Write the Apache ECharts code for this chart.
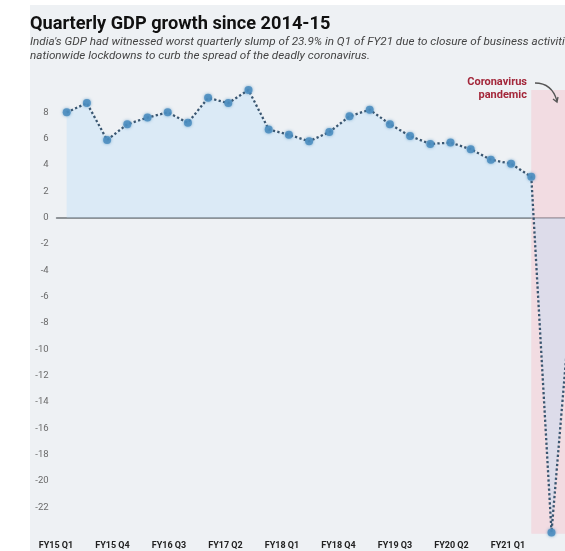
<!DOCTYPE html>
<html>
<head>
<meta charset="utf-8">
<script src="https://cdn.jsdelivr.net/npm/echarts@6/dist/echarts.min.js"></script>
<style>
  html, body { margin: 0; padding: 0; background: #ffffff; }
  #chart { width: 565px; height: 551px; }
</style>
</head>
<body>
<div id="chart"></div>
<script>
// ---- data ----
const quarters = [
  'FY15 Q1','FY15 Q2','FY15 Q3','FY15 Q4',
  'FY16 Q1','FY16 Q2','FY16 Q3','FY16 Q4',
  'FY17 Q1','FY17 Q2','FY17 Q3','FY17 Q4',
  'FY18 Q1','FY18 Q2','FY18 Q3','FY18 Q4',
  'FY19 Q1','FY19 Q2','FY19 Q3','FY19 Q4',
  'FY20 Q1','FY20 Q2','FY20 Q3','FY20 Q4',
  'FY21 Q1','FY21 Q2'
];
const gdpGrowth = [
  8.0, 8.7, 5.9, 7.1,
  7.6, 8.0, 7.2, 9.1,
  8.7, 9.7, 6.7, 6.3,
  5.8, 6.5, 7.7, 8.2,
  7.1, 6.2, 5.6, 5.7,
  5.2, 4.4, 4.1, 3.1,
  -23.9, -5.6
];
const tickLabels = ['FY15 Q1','FY15 Q4','FY16 Q3','FY17 Q2','FY18 Q1','FY18 Q4','FY19 Q3','FY20 Q2','FY21 Q1'];
const pandemicStart = 'FY20 Q4';
const pandemicTop = 9.7;

const titleText = 'Quarterly GDP growth since 2014-15';
const subtitleText = "India's GDP had witnessed worst quarterly slump of 23.9% in Q1 of FY21 due to closure of business activities and\nnationwide lockdowns to curb the spread of the deadly coronavirus.";
const annotationText = 'Coronavirus\npandemic';

const chart = echarts.init(document.getElementById('chart'), null, { renderer: 'canvas' });

const option = {
  backgroundColor: '#ffffff',
  animation: false,
  title: {
    text: titleText,
    subtext: subtitleText,
    left: 30,
    top: 15,
    padding: 0,
    itemGap: 2,
    textStyle: { fontFamily: 'Roboto', fontWeight: 'bold', fontSize: 18.2, color: '#111111' },
    subtextStyle: { fontFamily: 'Roboto', fontStyle: 'italic', fontSize: 11.7, color: '#444444', lineHeight: 14 }
  },
  graphic: [
    { type: 'rect', z: -100, silent: true, shape: { x: 30, y: 5, width: 600, height: 600 }, style: { fill: '#eef1f4' } },
    { type: 'text', z: 100, style: {
        x: 527, y: 75, text: annotationText, align: 'right', verticalAlign: 'top',
        font: 'bold 11px Roboto', fill: '#a3273a', lineHeight: 13.5
      } },
    { type: 'bezierCurve', z: 100, shape: { x1: 535, y1: 83, x2: 557, y2: 101, cpx1: 552, cpy1: 83 },
      style: { stroke: '#555555', lineWidth: 1.3, fill: null } },
    { type: 'polyline', z: 100, shape: { points: [[553, 99], [557, 102], [558, 97]] },
      style: { stroke: '#555555', lineWidth: 1.3, fill: null } }
  ],
  grid: [
    { left: 56.6, width: 525.2, top: 86.0, bottom: 17.3, outerBoundsMode: 'none', containLabel: false },
    { left: 56, right: 57, top: 530, bottom: 15, outerBoundsMode: 'none', containLabel: false }
  ],
  xAxis: [
    {
      type: 'category', gridIndex: 0, data: quarters, boundaryGap: true,
      axisLine: { show: true, onZero: true, lineStyle: { color: '#6f7478', width: 1.6 } },
      axisTick: { show: false }, axisLabel: { show: false }, splitLine: { show: false }
    },
    {
      type: 'category', gridIndex: 1, data: tickLabels, boundaryGap: false,
      axisLine: { show: false }, axisTick: { show: false },
      axisLabel: { show: true, interval: 0, margin: 5, fontFamily: 'Roboto', fontWeight: 'bold', fontSize: 9, color: '#222222' }
    }
  ],
  yAxis: [
    {
      type: 'value', gridIndex: 0, min: -24, max: 10, interval: 2,
      axisLine: { show: false }, axisTick: { show: false }, splitLine: { show: false },
      axisLabel: {
        margin: 8, fontFamily: 'Roboto', fontSize: 9.5, color: '#6a6a6a',
        formatter: function (v) { return (v === 10 || v === -24) ? '' : String(v); }
      }
    },
    { type: 'value', gridIndex: 1, show: false }
  ],
  series: [
    {
      type: 'line', xAxisIndex: 0, yAxisIndex: 0, data: gdpGrowth,
      symbol: 'circle', symbolSize: 8, showSymbol: true,
      lineStyle: { type: 'dotted', width: 2.3, color: '#3a5670' },
      itemStyle: { color: 'rgba(74,140,190,0.85)', borderWidth: 0, shadowBlur: 3, shadowColor: 'rgba(74,140,190,0.8)' },
      areaStyle: { color: 'rgba(185,222,250,0.5)' },
      z: 3,
      markArea: {
        silent: true,
        itemStyle: { color: 'rgba(250,180,190,0.34)' },
        data: [[ { xAxis: pandemicStart, yAxis: pandemicTop }, { xAxis: quarters[quarters.length - 1], yAxis: -24 } ]]
      }
    }
  ]
};
chart.setOption(option);
</script>
</body>
</html>
